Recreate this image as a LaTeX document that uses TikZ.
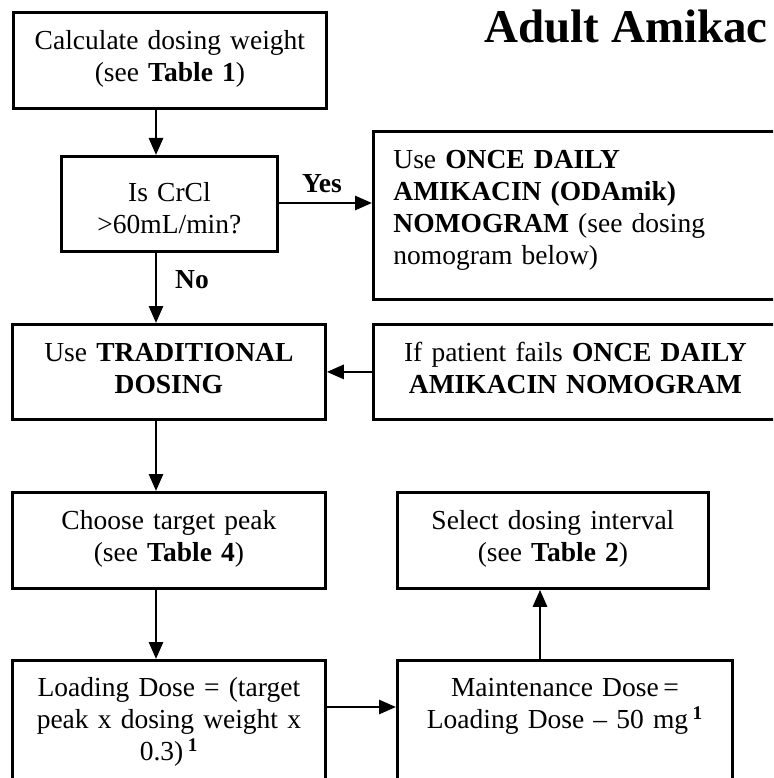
\documentclass[tikz,border=0pt]{standalone}
\usepackage{fontspec}
\setmainfont{Liberation Serif}
\usetikzlibrary{arrows.meta, calc}
\tikzset{
    box/.style = {draw, anchor=north west, align=center, inner xsep=6pt, inner ysep=0pt,
        font=\fontsize{27.5}{32}\selectfont, text height=37pt},
    lbl/.style = {anchor=base, font=\fontsize{27.5}{32}\selectfont\bfseries},
    arr/.style = {-{Triangle[length=17pt,width=14pt]}},
}

\begin{document}
\begin{tikzpicture}[x=1pt, y=-1pt, line width=2.8pt]
\useasboundingbox (0,0) rectangle (773,778);
\clip (0,0) rectangle (773,778);

\node[anchor=base west, inner sep=0pt, font=\fontsize{47}{56}\selectfont\bfseries] (title) at (483,43) {Adult Amikac};

\node[box, text width=301pt, text depth=59pt] (calc) at (12,11) {Calculate dosing weight\\(see \textbf{Table 1})};
\node[box, text width=204pt, text height=45pt, text depth=50pt] (crcl) at (60,155) {Is CrCl\\>60mL/min?};
\node[box, align=left, inner xsep=20pt, text width=368pt, text depth=131pt] (oda) at (372,130)
    {Use \textbf{ONCE DAILY}\\\textbf{AMIKACIN (ODAmik)}\\\textbf{NOMOGRAM} (see dosing\\nomogram below)};
\node[box, text width=301pt, text depth=58pt] (trad) at (11,323) {Use \textbf{TRADITIONAL}\\\textbf{DOSING}};
\node[box, text width=392pt, text depth=58pt] (fail) at (372,323) {If patient fails \textbf{ONCE DAILY}\\\textbf{AMIKACIN NOMOGRAM}};
\node[box, text width=301pt, text depth=59pt] (choose) at (11,491) {Choose target peak\\(see \textbf{Table 4})};
\node[box, text width=299pt, text depth=59pt] (select) at (396,491) {Select dosing interval\\(see \textbf{Table 2})};
\node[box, text width=301pt, text height=36pt, text depth=105pt] (load) at (11,659)
    {Loading Dose = (target\\peak x dosing weight x\\0.3)\,\textsuperscript{\textbf{1}}};
\node[box, text width=323pt, text height=36pt, text depth=105pt] (maint) at (396,659)
    {Maintenance Dose\,=\\Loading Dose -- 50 mg\,\textsuperscript{\textbf{1}}};

\coordinate (spine) at (156,0);
\coordinate (yes) at (0,203);
\coordinate (ld) at (0,707);
\coordinate (up) at (540,0);

\draw[arr] (calc.south -| spine) -- (crcl.north -| spine);
\draw[arr] (crcl.east |- yes) -- (oda.west |- yes);
\node[lbl] (yeslbl) at (322,192) {Yes};
\draw[arr] (crcl.south -| spine) -- (trad.north -| spine);
\node[lbl] (nolbl) at (192,288) {No};
\draw[arr] (fail.west) -- (trad.east);
\draw[arr] (trad.south -| spine) -- (choose.north -| spine);
\draw[arr] (choose.south -| spine) -- (load.north -| spine);
\draw[arr] (load.east |- ld) -- (maint.west |- ld);
\draw[arr] (maint.north -| up) -- (select.south -| up);
\end{tikzpicture}
\end{document}
